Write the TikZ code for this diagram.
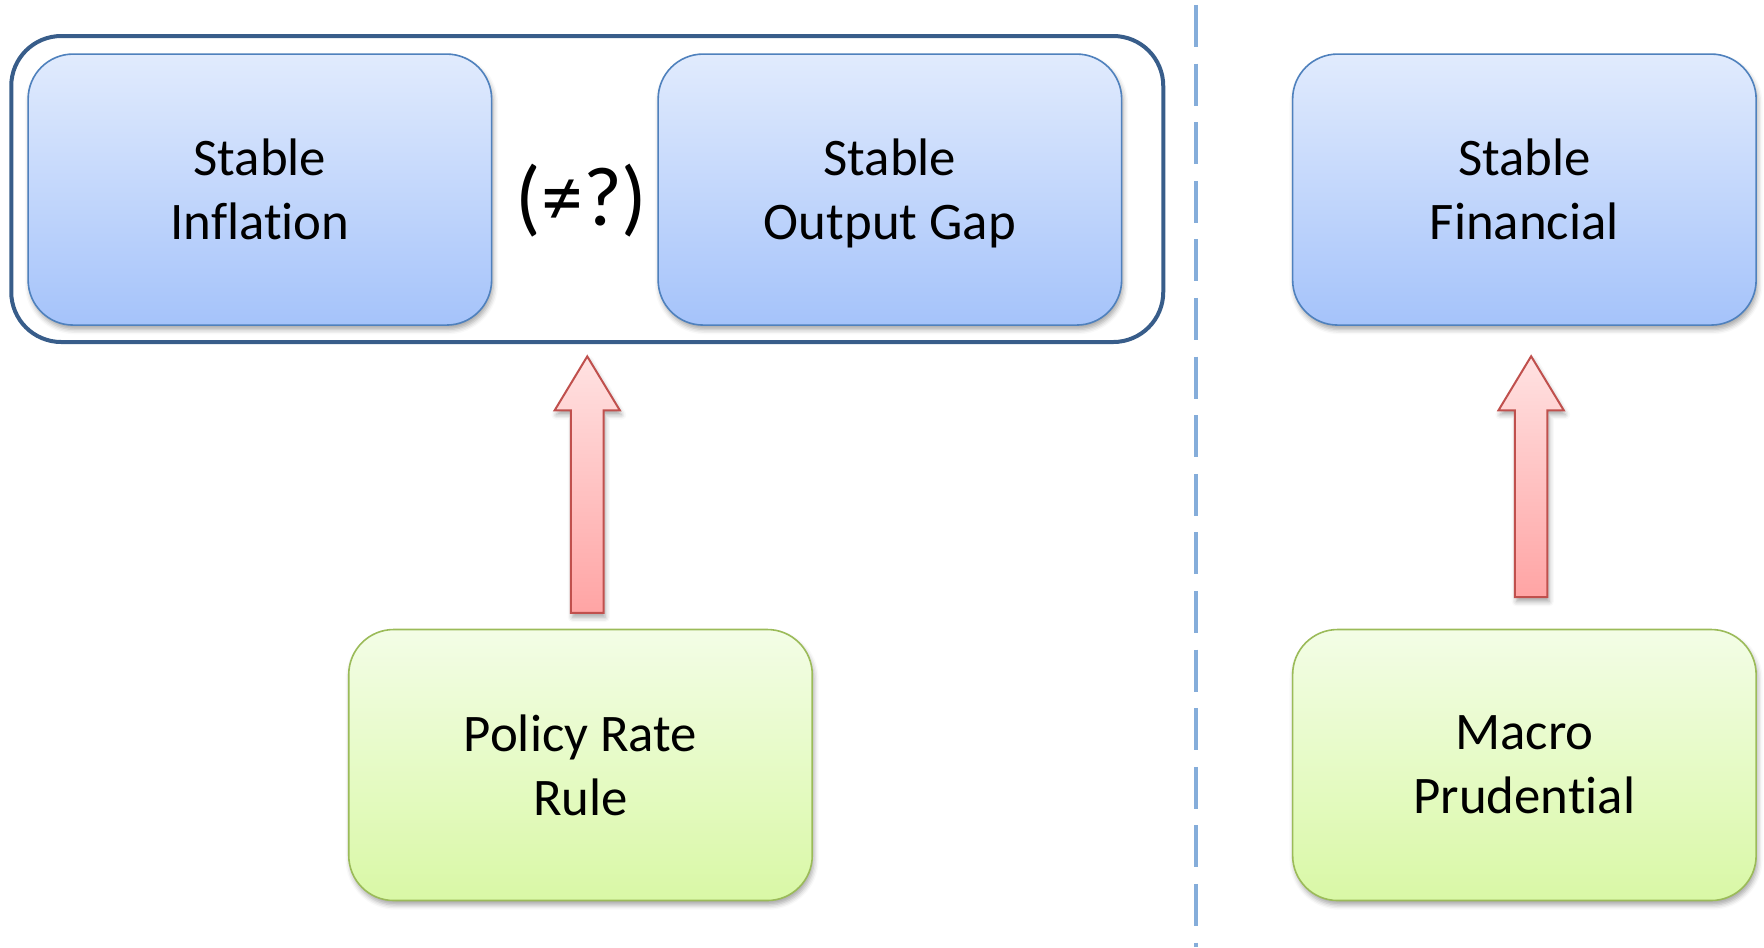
\documentclass[tikz,border=0pt]{standalone}
\usepackage{fontspec}
\setmainfont{Carlito}[Ligatures=NoCommon]
\usepackage{tikz}
\usetikzlibrary{calc,shadows.blur}

\definecolor{goalline}{HTML}{4F81BD}
\definecolor{goaltop}{HTML}{E1EBFD}
\definecolor{goalbot}{HTML}{A5C3FA}
\definecolor{toolline}{HTML}{9BBB59}
\definecolor{tooltop}{HTML}{F3FDE6}
\definecolor{toolbot}{HTML}{D9F8A6}
\definecolor{arrline}{HTML}{C0504D}
\definecolor{arrtop}{HTML}{FFE2E2}
\definecolor{arrbot}{HTML}{FFA4A4}
\definecolor{frameline}{HTML}{385D8A}
\definecolor{sepcolor}{HTML}{85ADDA}

\begin{document}
\begin{tikzpicture}[x=0.5625pt,y=-0.5625pt,
  softshadow/.style={blur shadow={shadow xshift=0.8pt,shadow yshift=-2.2pt,shadow blur radius=2.4pt,shadow opacity=35}},
  goalbox/.style={draw=goalline,line width=.8pt,rounded corners=22.5pt,top color=goaltop,bottom color=goalbot,
    minimum width=231.75pt,minimum height=135.5pt,align=center,text depth=0pt,
    font=\fontsize{26.4}{32}\selectfont,softshadow},
  toolbox/.style={goalbox,draw=toolline,top color=tooltop,bottom color=toolbot},
  blockarrow/.style={draw=arrline,line width=1pt,line join=miter,top color=arrtop,bottom color=arrbot,softshadow}]

\useasboundingbox (0,0) rectangle (1568,842);

% Goals
\node (infl) at (231,168.5) [goalbox] {Stable\\Inflation};
\node (gap) at (791,168.5) [goalbox] {Stable\\Output Gap};
\node (fin) at (1355,168.5) [goalbox] {Stable\\Financial};
\node (goals) at (522,168) [draw=frameline,line width=2pt,rounded corners=25pt,minimum width=576pt,minimum height=153pt] {};
\node (neq) at ($(infl.east)!.5!(gap.west)+(6,9.5)$) [font=\fontsize{42}{50}\selectfont] {(≠?)};

% Tools
\node (policy) at (516,680) [toolbox] {Policy Rate\\Rule};
\node (macro) at (1355,680) [toolbox] {Macro\\Prudential};

% Separator
\coordinate (septop) at (1063,4.4);
\coordinate (sepbot) at (1063,842);
\draw[sepcolor,line width=2pt,dash pattern=on 21pt off 8.3pt] (septop) -- (sepbot);

% Policy arrow
\coordinate (tipa) at ($(goals.south)+(0,11)$);
\coordinate (basea) at ($(tipa |- policy.north)+(0,-14)$);
\path[blockarrow] ($(basea)+(-14.5,0)$) -- ($(tipa)+(-14.5,48)$) -- ($(tipa)+(-29,48)$) -- (tipa)
  -- ($(tipa)+(29,48)$) -- ($(tipa)+(14.5,48)$) -- ($(basea)+(14.5,0)$) -- cycle;

% Macro arrow
\coordinate (tipb) at ($(fin.south)+(6,27)$);
\coordinate (baseb) at ($(tipb |- macro.north)+(0,-28)$);
\path[blockarrow] ($(baseb)+(-14.5,0)$) -- ($(tipb)+(-14.5,48)$) -- ($(tipb)+(-29,48)$) -- (tipb)
  -- ($(tipb)+(29,48)$) -- ($(tipb)+(14.5,48)$) -- ($(baseb)+(14.5,0)$) -- cycle;

\end{tikzpicture}
\end{document}
